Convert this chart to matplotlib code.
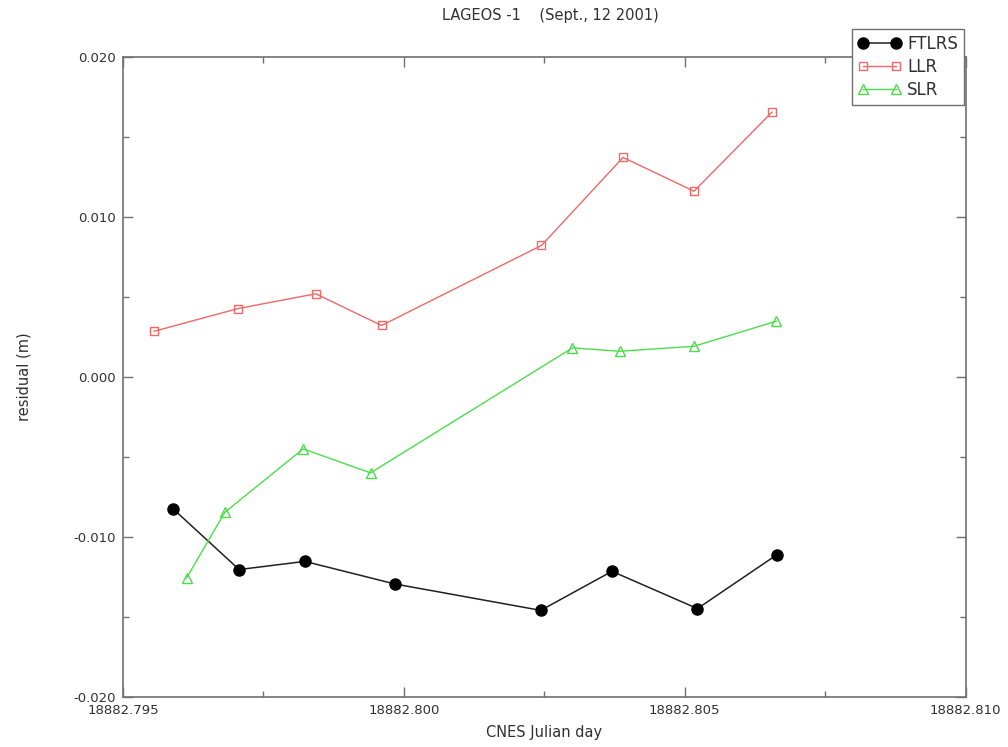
import numpy as np
import matplotlib
matplotlib.use('Agg')
from matplotlib import pyplot as plt
from matplotlib.ticker import MultipleLocator, FormatStrFormatter

# data (CNES julian day, residual in metres)
ftlrs_t = [18882.795893, 18882.797068, 18882.798237, 18882.799838,
           18882.802436, 18882.803705, 18882.805225, 18882.806641]
ftlrs_r = [-0.00825, -0.01204, -0.01153, -0.01294,
           -0.01459, -0.01215, -0.01448, -0.01111]

llr_t = [18882.795555, 18882.797050, 18882.798432, 18882.799602,
         18882.802449, 18882.803901, 18882.805164, 18882.806552]
llr_r = [0.00285, 0.00427, 0.00519, 0.00321,
         0.00821, 0.01371, 0.01160, 0.01654]

slr_t = [18882.796132, 18882.796813, 18882.798207, 18882.799406,
         18882.803000, 18882.803842, 18882.805164, 18882.806630]
slr_r = [-0.01256, -0.00846, -0.00450, -0.00600,
         0.00181, 0.00160, 0.00191, 0.00348]

xticks = [18882.795, 18882.800, 18882.805, 18882.810]
yticks = [-0.020, -0.010, 0.000, 0.010, 0.020]

plt.rcParams['font.family'] = ['DejaVu Sans']
txt = '#303030'
axc = '#707070'

fig = plt.figure(figsize=(10.08, 7.47), dpi=100)
ax = fig.add_axes([0.122, 0.067, 0.836, 0.857])

ax.plot(ftlrs_t, ftlrs_r, '-o', color='#202020', lw=1.1, ms=8,
        mfc='black', mec='black', label='FTLRS')
ax.plot(llr_t, llr_r, '-s', color='#f06868', lw=1.0, ms=6,
        mfc='none', mec='#f06868', mew=1.0, label='LLR')
ax.plot(slr_t, slr_r, '-^', color='#4cdd4c', lw=1.0, ms=7,
        mfc='none', mec='#4cdd4c', mew=1.0, label='SLR')

ax.set_xlim(xticks[0], xticks[-1])
ax.set_ylim(yticks[0], yticks[-1])
ax.set_xticks(xticks)
ax.set_yticks(yticks)
ax.xaxis.set_minor_locator(MultipleLocator(0.0025))
ax.yaxis.set_minor_locator(MultipleLocator(0.005))
ax.xaxis.set_major_formatter(FormatStrFormatter('%.3f'))
ax.yaxis.set_major_formatter(FormatStrFormatter('%.3f'))
ax.tick_params(which='both', direction='in', top=True, right=True,
               color=axc, labelcolor=txt, labelsize=9.5, width=1)
ax.tick_params(which='major', length=7, pad=5)
ax.tick_params(which='minor', length=4)
for s in ax.spines.values():
    s.set_color(axc)
    s.set_linewidth(1.2)

ax.set_xlabel('CNES Julian day', fontsize=10.5, color=txt, labelpad=6)
ax.set_ylabel('residual (m)', fontsize=10.5, color=txt, labelpad=30)
fig.text(0.546, 0.979, 'LAGEOS -1    (Sept., 12 2001)', ha='center',
         va='center', fontsize=10.5, color=txt)

leg = ax.legend(loc='upper left', bbox_to_anchor=(852 / 1008, 1 - 29 / 747),
                bbox_transform=fig.transFigure, fontsize=12, numpoints=2,
                handlelength=2.6, handletextpad=0.35, labelspacing=0.3,
                borderpad=0.35, borderaxespad=0, fancybox=False,
                framealpha=1, edgecolor=axc)
leg.get_frame().set_linewidth(1.0)
for t in leg.get_texts():
    t.set_color(txt)

fig.savefig('out.png', dpi=100)
